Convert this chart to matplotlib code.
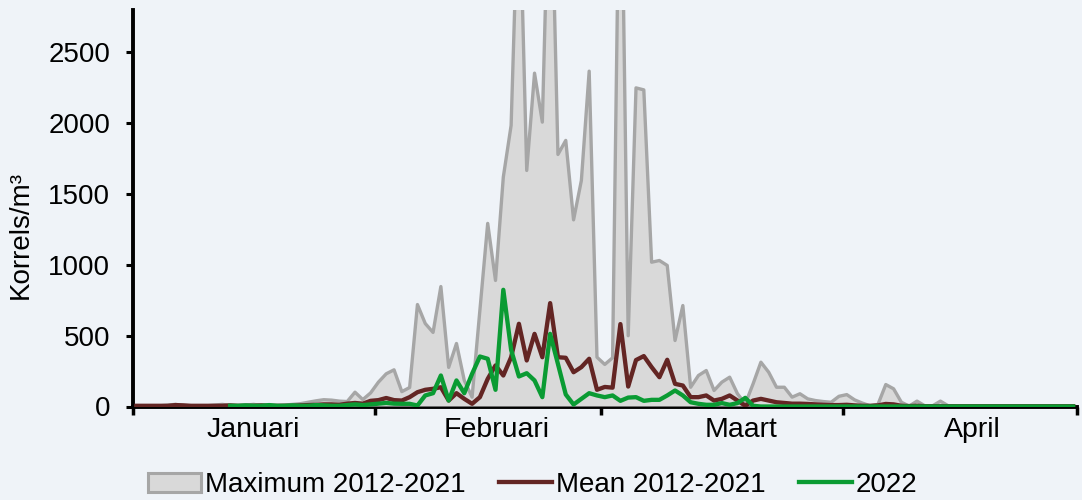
import numpy as np
import matplotlib.pyplot as plt
from matplotlib.patches import Patch
from matplotlib.lines import Line2D

plt.rcParams['font.family'] = ['Liberation Sans', 'DejaVu Sans']

# ──────────────────────────────────────────────
# Data: daily pollen counts, 1 Jan - 30 Apr (incl. 29 Feb)
# ──────────────────────────────────────────────
months = ["Januari", "Februari", "Maart", "April"]
month_days = [31, 29, 31, 30]

max_2012_2021 = [
    0, 0, 0, 5, 10, 15, 8, 5, 5, 5,
    10, 15, 8, 5, 10, 15, 8, 5, 5, 10,
    15, 20, 30, 40, 48, 45, 38, 35, 101, 49,
    96, 172, 231, 259, 105, 134, 720, 586, 523, 847,
    276, 445, 184, 66, 680, 1293, 890, 1620, 1985, 3800,
    1667, 2354, 2008, 4100, 1780, 1879, 1318, 1596, 2368, 348,
    297, 344, 4400, 500, 2250, 2236, 1019, 1031, 996, 466,
    713, 136, 219, 254, 113, 172, 207, 90, 19, 160,
    313, 242, 136, 136, 66, 90, 54, 42, 35, 30,
    72, 84, 47, 24, 5, 15, 155, 125, 30, 3,
    38, 5, 5, 38, 5, 0, 0, 0, 0, 0,
    0, 0, 0, 0, 0, 0, 0, 0, 0, 0,
    0,
]

mean_2012_2021 = [
    5, 5, 5, 5, 5, 10, 8, 5, 5, 5,
    5, 5, 8, 5, 5, 5, 8, 5, 5, 5,
    5, 8, 10, 12, 15, 15, 12, 20, 25, 20,
    40, 45, 60, 45, 42, 66, 101, 118, 125, 136,
    42, 94, 54, 19, 66, 195, 290, 219, 348, 584,
    325, 513, 348, 730, 348, 344, 242, 278, 337, 118,
    138, 133, 582, 141, 328, 356, 278, 207, 330, 160,
    148, 66, 66, 78, 42, 54, 78, 42, 5, 42,
    54, 42, 30, 25, 20, 20, 18, 15, 12, 10,
    10, 12, 8, 5, 5, 8, 18, 15, 5, 3,
    5, 2, 2, 2, 2, 2, 2, 2, 2, 2,
    2, 2, 2, 2, 2, 2, 2, 2, 2, 2,
    2,
]

nan = np.nan
y2022 = [
    nan, nan, nan, nan, nan, nan, nan, nan, nan, nan,
    nan, nan, 5, 5, 8, 5, 5, 10, 5, 5,
    8, 5, 5, 10, 8, 5, 5, 10, 15, 10,
    15, 20, 25, 20, 19, 19, 7, 78, 94, 219,
    42, 184, 94, 231, 353, 337, 118, 824, 400, 212,
    235, 184, 66, 513, 300, 85, 14, 54, 94, 78,
    66, 78, 40, 63, 66, 40, 47, 47, 78, 113,
    78, 30, 19, 12, 12, 24, 12, 24, 61, 5,
    0, 0, 0, 0, 0, 0, 0, 0, 0, 0,
    0, 0, 0, 0, 0, 0, 0, 0, 0, 0,
    0, 0, 0, 0, 0, 0, 0, 0, 0, 0,
    0, 0, 0, 0, 0, 0, 0, 0, 0, 0,
    0,
]

# ──────────────────────────────────────────────
# Colours
# ──────────────────────────────────────────────
bg = "#eff3f8"
c_fill = "#d9d9d9"
c_max = "#a6a6a6"
c_mean = "#632523"
c_2022 = "#0a9b33"

days = np.arange(len(max_2012_2021)) + 0.5
bounds = np.concatenate([[0], np.cumsum(month_days)])
# month labels sit a little right of the middle, as in the original
label_shift = [0.0, 1.15, 2.4, 1.55]
centers = (bounds[:-1] + bounds[1:]) / 2 + np.array(label_shift)

fig = plt.figure(figsize=(10.82, 5.0), dpi=100, facecolor=bg)
ax = fig.add_axes([0.1225, 0.187, 0.8729, 0.793])
ax.set_facecolor(bg)

ax.fill_between(days, 0, max_2012_2021, color=c_fill, lw=0, zorder=1)
ax.plot(days, max_2012_2021, color=c_max, lw=2.4, zorder=2)
ax.plot(days, mean_2012_2021, color=c_mean, lw=3.1, zorder=3)
ax.plot(days, y2022, color=c_2022, lw=3.1, zorder=4)

ax.set_xlim(bounds[0], bounds[-1])
ax.set_ylim(0, 2800)
ax.set_yticks([0, 500, 1000, 1500, 2000, 2500])

ax.set_xticks(bounds)
ax.set_xticklabels([])
ax.set_xticks(centers, minor=True)
ax.set_xticklabels(months, minor=True)

for side in ["top", "right"]:
    ax.spines[side].set_visible(False)
for side in ["left", "bottom"]:
    ax.spines[side].set_linewidth(2.8)
    ax.spines[side].set_color("black")
    ax.spines[side].set_zorder(0.5)

ax.tick_params(axis="y", which="major", direction="out", length=5, width=2.2,
               pad=11, labelsize=20)
ax.tick_params(axis="x", which="major", direction="out", length=6, width=2.5)
ax.tick_params(axis="x", which="minor", length=0, pad=7.5, labelsize=20.5)

fig.text(21 / 1082, 1 - 235 / 500, "Korrels/m³", rotation=90,
         ha="center", va="center", fontsize=20)

handles = [
    Patch(facecolor=c_fill, edgecolor=c_max, linewidth=2.2),
    Line2D([0], [0], color=c_mean, lw=3.1),
    Line2D([0], [0], color=c_2022, lw=3.1),
]
labels = ["Maximum 2012-2021", "Mean 2012-2021", "2022"]
fig.legend(handles, labels, loc="center", bbox_to_anchor=(0.4926, 0.03),
           ncol=3, frameon=False, fontsize=20, handlelength=1.9,
           handletextpad=0.15, columnspacing=1.2, borderaxespad=0)

fig.savefig("out.png", dpi=100, facecolor=bg)
